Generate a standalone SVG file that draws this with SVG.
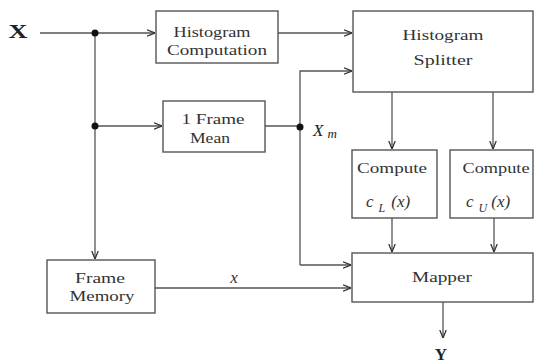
<svg xmlns="http://www.w3.org/2000/svg" width="535" height="363" viewBox="0 0 535 363">
<defs>
<marker id="arr" viewBox="0 0 10 10" refX="10" refY="5" markerWidth="8" markerHeight="8" markerUnits="userSpaceOnUse" orient="auto">
<path d="M0,1 L10,5 L0,9" fill="none" stroke="#333" stroke-width="1.6"/>
</marker>
</defs>
<style>
.box{fill:#fff;stroke:#555;stroke-width:1.4}
.ln{fill:none;stroke:#555;stroke-width:1.3}
text{font-family:'Liberation Serif','DejaVu Serif','Noto Serif',serif}
.t{font-size:15px;fill:#333;text-anchor:middle}
.i{font-style:italic}
.c{font-size:17px;font-style:italic;fill:#333}
.dot{fill:#111}
</style>
<rect width="535" height="363" fill="#fff"/>
<g id="connectors">
<path class="ln" d="M40,33 H155" marker-end="url(#arr)"/>
<path class="ln" d="M95,33 V259" marker-end="url(#arr)"/>
<path class="ln" d="M95,126 H162" marker-end="url(#arr)"/>
<path class="ln" d="M278,33 H352" marker-end="url(#arr)"/>
<path class="ln" d="M265,126 H300"/>
<path class="ln" d="M300,265 V71 H352" marker-end="url(#arr)"/>
<path class="ln" d="M300,265 H351" marker-end="url(#arr)"/>
<path class="ln" d="M392,92 V149" marker-end="url(#arr)"/>
<path class="ln" d="M493,92 V149" marker-end="url(#arr)"/>
<path class="ln" d="M392,218 V252" marker-end="url(#arr)"/>
<path class="ln" d="M494,218 V252" marker-end="url(#arr)"/>
<path class="ln" d="M155,288 H351" marker-end="url(#arr)"/>
<path class="ln" d="M443,302 V338" marker-end="url(#arr)"/>
<circle class="dot" cx="95" cy="33" r="3.5"/>
<circle class="dot" cx="95" cy="126" r="3.5"/>
<circle class="dot" cx="300" cy="127" r="3.5"/>
</g>
<g id="input-X"><text x="18" y="38" class="t" style="font-size:19px;font-weight:bold;fill:#222" textLength="19" lengthAdjust="spacingAndGlyphs">X</text></g>
<g id="hist-comp">
<rect class="box" x="156" y="11" width="122" height="52"/>
<text class="t" x="212" y="37" textLength="77" lengthAdjust="spacingAndGlyphs">Histogram</text>
<text class="t" x="217" y="55" textLength="100" lengthAdjust="spacingAndGlyphs">Computation</text>
</g>
<g id="frame-mean">
<rect class="box" x="163" y="101" width="102" height="51"/>
<text class="t" x="213" y="124" textLength="63" lengthAdjust="spacingAndGlyphs">1 Frame</text>
<text class="t" x="210" y="143" textLength="40" lengthAdjust="spacingAndGlyphs">Mean</text>
</g>
<g id="xm-label"><text x="313" y="136" style="font-size:17px;font-style:italic;fill:#222">X<tspan font-size="13" dx="4" dy="2">m</tspan></text></g>
<g id="hist-splitter">
<rect class="box" x="353" y="11" width="180" height="81"/>
<text class="t" x="443" y="40" textLength="81" lengthAdjust="spacingAndGlyphs">Histogram</text>
<text class="t" x="443" y="65" textLength="59" lengthAdjust="spacingAndGlyphs">Splitter</text>
</g>
<g id="compute-L">
<rect class="box" x="352" y="150" width="85" height="68"/>
<text class="t" x="392" y="173" textLength="70" lengthAdjust="spacingAndGlyphs">Compute</text>
<text class="c" x="366" y="207">c<tspan font-size="12" dy="5" dx="5">L</tspan><tspan dy="-5" dx="6">(x)</tspan></text>
</g>
<g id="compute-U">
<rect class="box" x="450" y="150" width="83" height="68"/>
<text class="t" x="496" y="173" textLength="67" lengthAdjust="spacingAndGlyphs">Compute</text>
<text class="c" x="466" y="207">c<tspan font-size="12" dy="5" dx="5">U</tspan><tspan dy="-5" dx="4">(x)</tspan></text>
</g>
<g id="mapper">
<rect class="box" x="352" y="253" width="181" height="49"/>
<text class="t" x="442" y="282" textLength="60" lengthAdjust="spacingAndGlyphs">Mapper</text>
</g>
<g id="frame-memory">
<rect class="box" x="47" y="260" width="108" height="53"/>
<text class="t" x="100" y="283" textLength="50" lengthAdjust="spacingAndGlyphs">Frame</text>
<text class="t" x="102" y="301" textLength="65" lengthAdjust="spacingAndGlyphs">Memory</text>
</g>
<g id="x-label"><text class="t i" x="234" y="283" style="font-size:17px">x</text></g>
<g id="output-Y"><text class="t" x="441" y="360" style="font-size:17px;font-weight:bold;fill:#222">Y</text></g>
</svg>
